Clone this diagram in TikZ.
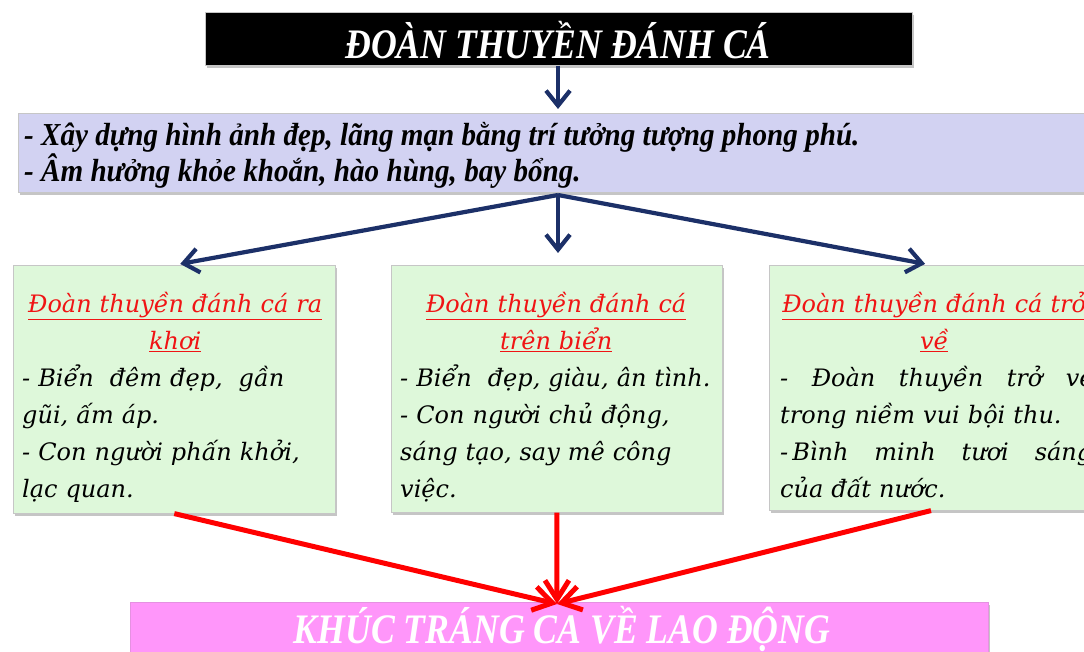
\documentclass[tikz,border=0pt]{standalone}
\usepackage{fontspec}
\setmainfont{Liberation Serif}
\newfontfamily\bodyfont{DejaVu Serif}
\usetikzlibrary{arrows.meta,shadows}
\definecolor{navy}{RGB}{28,48,104}
\definecolor{lav}{RGB}{210,210,242}
\definecolor{mint}{RGB}{222,248,218}
\definecolor{pinkbox}{RGB}{255,150,250}
\definecolor{headred}{RGB}{240,20,20}
\begin{document}
\begin{tikzpicture}[x=1pt,y=-1pt,
  shbox/.style={draw=gray!45, line width=0.6pt, inner sep=0pt, anchor=north west,
    drop shadow={shadow xshift=2pt, shadow yshift=-3pt, opacity=0.45, fill=gray}},
  bodytxt/.style={anchor=north west, inner sep=0pt, align=left, text width=340pt,
    font=\bodyfont\itshape\fontsize{24}{37}\selectfont},
  navyarrow/.style={draw=navy, line width=4.2pt, -{Straight Barb[length=15pt,width=24pt]}},
  redarrow/.style={draw=red, line width=5pt, -{Straight Barb[length=19pt,width=24pt]}},
  bigtitle/.style={text=white, font=\bfseries\itshape\fontsize{42}{46}\selectfont}
]
\useasboundingbox (0,0) rectangle (1084,652);
\clip (0,0) rectangle (1084,652);
\fill[white] (0,0) rectangle (1084,652);

% title
\node[shbox, fill=black, minimum width=707pt, minimum height=53pt] (title) at (205,12) {};
\node[bigtitle] (titletxt) at (558,40) {\scalebox{0.85}[1]{ĐOÀN THUYỀN ĐÁNH CÁ}};

% lavender summary
\node[shbox, fill=lav, minimum width=1082pt, minimum height=79pt] (lav) at (18,113) {};
\node[anchor=west, inner sep=0pt, align=left, font=\bfseries\itshape\fontsize{32}{36}\selectfont] (lavtxt) at (24,155)
 {\scalebox{0.91}[1]{- Xây dựng hình  ảnh đẹp, lãng mạn bằng trí tưởng tượng phong phú.}\\
  \scalebox{0.91}[1]{- Âm hưởng khỏe khoắn, hào hùng, bay bổng.}};

% green boxes
\node[shbox, fill=mint, minimum width=322pt, minimum height=248pt] (left) at (13,265) {};
\node[shbox, fill=mint, minimum width=331pt, minimum height=247pt] (mid) at (391,265) {};
\node[shbox, fill=mint, minimum width=328pt, minimum height=245pt] (right) at (769,265) {};

\node[bodytxt] (lefttxt) at (22,292) {%
 \makebox[306pt][c]{\color{headred}\underline{Đoàn thuyền đánh cá ra}}\\
 \makebox[306pt][c]{\color{headred}\underline{khơi}}\\
 - Biển\ \ đêm đẹp,\ \ gần\\
 gũi, ấm áp.\\
 - Con người phấn khởi,\\
 lạc quan.};

\node[bodytxt] (midtxt) at (400,292) {%
 \makebox[312pt][c]{\color{headred}\underline{Đoàn thuyền đánh cá}}\\
 \makebox[312pt][c]{\color{headred}\underline{trên biển}}\\
 - Biển\ \ đẹp, giàu, ân tình.\\
 - Con người chủ động,\\
 sáng tạo, say mê công\\
 việc.};

\node[bodytxt] (righttxt) at (780,292) {%
 \makebox[308pt][c]{\color{headred}\underline{Đoàn thuyền đánh cá trở}}\\
 \makebox[308pt][c]{\color{headred}\underline{về}}\\
 \makebox[314pt][l]{-\hfill Đoàn\hfill thuyền\hfill trở\hfill về}\\
 trong niềm vui bội thu.\\
 \makebox[312pt][l]{-\,Bình\hfill minh\hfill tươi\hfill sáng}\\
 của đất nước.};

% pink conclusion
\node[shbox, fill=pinkbox, draw=pinkbox!80!gray, minimum width=858pt, minimum height=70pt] (pink) at (130,602) {};
\node[bigtitle] (pinktxt) at (562,629) {\scalebox{0.85}[1]{KHÚC TRÁNG CA VỀ LAO ĐỘNG}};

% connectors
\coordinate (fork) at (558,195);
\coordinate (pinktop) at (557,604);
\coordinate (rtop) at (931,265);
\draw[navyarrow, shorten >=4pt] (title.south -| fork) -- (lav.north -| fork);
\draw[navyarrow, shorten >=6pt] (fork) -- (left.north);
\draw[navyarrow, shorten >=12pt] (fork) -- (mid.north -| fork);
\draw[navyarrow, shorten >=6pt] (fork) -- (rtop);
\draw[redarrow] (left.south) -- (pinktop);
\draw[redarrow] (mid.south) -- (pinktop);
\draw[redarrow] (right.south -| rtop) -- (pinktop);
\end{tikzpicture}
\end{document}
